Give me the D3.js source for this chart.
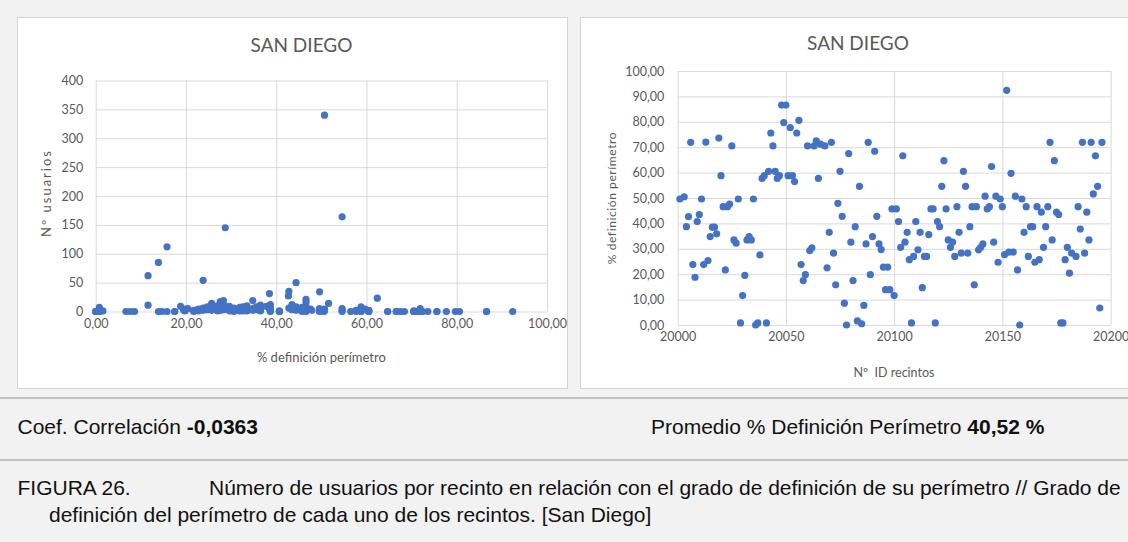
<!DOCTYPE html>
<html><head><meta charset="utf-8">
<script src="https://cdn.jsdelivr.net/npm/d3@7"></script>
<style>
html,body{margin:0;padding:0;background:#f2f2f2;}
svg{display:block;}
</style></head>
<body>
<svg id="c" width="1128" height="542"></svg>
<script>
// Recintos de San Diego: ID, % definición del perímetro, nº de usuarios
const recintoIds = [
20001,20003,20004,20005,20006,20007,20008,20009,20010,20011,
20012,20013,20014,20015,20016,20017,20018,20019,20020,20021,
20022,20023,20024,20025,20026,20027,20028,20029,20030,20031,
20032,20033,20034,20035,20036,20037,20038,20039,20040,20041,
20042,20043,20044,20045,20046,20047,20048,20049,20050,20051,
20052,20053,20054,20055,20056,20057,20058,20059,20060,20061,
20062,20063,20064,20065,20066,20068,20069,20070,20071,20072,
20073,20074,20075,20076,20077,20078,20079,20080,20081,20082,
20083,20084,20085,20086,20087,20088,20089,20090,20091,20092,
20093,20094,20095,20096,20097,20098,20099,20100,20101,20102,
20103,20104,20105,20106,20107,20108,20109,20110,20111,20112,
20113,20114,20115,20116,20117,20118,20119,20120,20121,20122,
20123,20124,20125,20126,20127,20128,20129,20130,20131,20132,
20133,20134,20135,20136,20137,20138,20139,20140,20141,20142,
20143,20144,20145,20146,20147,20148,20149,20150,20151,20152,
20153,20154,20155,20156,20157,20158,20159,20160,20161,20162,
20163,20164,20165,20166,20167,20168,20169,20170,20171,20172,
20173,20174,20175,20176,20177,20178,20179,20180,20181,20182,
20184,20185,20186,20187,20188,20189,20190,20191,20192,20193,
20194,20195,20196];

const pctDefinicion = [
49.6,50.5,38.7,42.7,71.9,23.8,18.8,40.7,43.5,49.6,
23.8,72.0,25.4,34.8,38.5,38.5,35.9,73.6,58.8,46.6,
21.7,46.6,47.6,70.5,33.5,32.2,49.6,0.8,11.6,19.5,
33.5,34.8,33.5,49.6,0.0,0.8,27.6,57.7,58.8,0.8,
60.5,75.6,70.5,60.5,57.7,58.8,86.6,79.7,86.6,58.8,
77.7,58.8,56.5,75.6,80.6,23.8,17.5,19.8,70.5,29.3,
30.4,70.5,72.5,57.7,71.2,70.5,22.5,36.5,71.9,28.3,
15.8,47.9,60.5,42.8,8.6,0.0,67.5,32.6,17.5,38.7,
1.6,54.6,0.5,7.7,31.9,71.9,19.8,34.8,68.4,42.8,
31.9,29.7,22.8,13.9,22.8,13.9,45.7,11.6,45.7,40.7,
30.6,66.6,32.6,36.5,25.7,0.8,27.0,40.7,29.6,36.5,
14.7,27.0,27.0,35.6,45.7,45.7,0.8,40.7,38.7,54.6,
64.7,45.7,33.5,30.6,32.6,27.0,46.6,36.5,28.3,60.5,
54.6,28.3,38.7,46.6,15.8,46.6,29.6,30.6,31.9,50.7,
45.7,46.6,62.4,32.6,50.7,24.7,49.6,46.6,27.7,92.4,
28.7,59.7,28.7,50.7,21.7,0.0,49.6,36.5,46.6,27.0,
38.7,38.7,24.7,46.6,25.7,44.4,30.6,38.7,46.6,71.9,
33.5,64.7,44.4,43.5,0.8,0.8,25.7,30.6,20.4,28.3,
27.0,46.6,37.8,71.9,28.3,44.4,33.5,71.9,51.6,66.6,
54.6,6.7,71.9];

const numUsuarios = [
0,0,2,27,5,54,9,0,12,34,
6,0,5,19,31,5,3,0,8,21,
2,4,4,0,6,2,5,7,62,2,
3,5,10,1,0,2,17,2,3,0,
0,0,0,2,0,0,0,0,0,2,
0,0,0,0,0,2,0,4,1,5,
4,0,0,1,0,0,3,6,2,19,
112,2,0,35,0,0,0,4,0,12,
1,164,0,0,1,0,1,2,0,6,
7,1,4,85,1,0,5,11,1,0,
2,0,8,2,14,3,4,1,2,11,
0,7,1,8,3,0,0,0,3,5,
0,2,2,6,1,10,16,4,6,1,
2,3,7,2,0,9,9,0,3,340,
7,1,23,5,4,8,3,5,2,0,
145,4,8,1,0,0,2,1,3,3,
1,4,3,0,2,50,3,0,6,0,
4,0,8,3,0,1,6,5,5,12,
5,2,9,0,4,2,1,1,14,0,
0,0,0];

const chartTitle = "SAN DIEGO";
const leftXTicks = [0,20,40,60,80,100];
const leftYTicks = [0,50,100,150,200,250,300,350,400];
const rightXTicks = [20000,20050,20100,20150,20200];
const rightYTicks = [0,10,20,30,40,50,60,70,80,90,100];
const leftXTitle = "% definición perímetro";
const leftYTitle = "Nº usuarios";
const rightXTitle = "Nº  ID recintos";
const rightYTitle = "% definición perímetro";
const coefLabel = "Coef. Correlación ";
const coefValue = "-0,0363";
const promLabel = "Promedio % Definición Perímetro ";
const promValue = "40,52 %";
const figLabel = "FIGURA 26.";
const figLine1 = "Número de usuarios por recinto en relación con el grado de definición de su perímetro // Grado de";
const figLine2 = "definición del perímetro de cada uno de los recintos. [San Diego]";

const data = recintoIds.map((id,i)=>({id, pct:pctDefinicion[i], users:numUsuarios[i]}));

const svg = d3.select("#c");
const GRID = "#d9d9d9", LBL = "#595959", DOT = "#4472c4";
const fmt2 = d => d3.format(".2f")(d).replace(".", ",");
const chartFont = "Lato, 'Open Sans', sans-serif";
const textFont = "'Liberation Sans', Arial, sans-serif";

svg.append("rect").attr("width",1128).attr("height",542).attr("fill","#f2f2f2");

// panels
svg.append("rect").attr("x",17.5).attr("y",17.5).attr("width",550).attr("height",371)
  .attr("fill","#fff").attr("stroke","#d4d4d4");
svg.append("rect").attr("x",580.5).attr("y",17.5).attr("width",560).attr("height",371)
  .attr("fill","#fff").attr("stroke","#d4d4d4");

function styleAxis(g){
  g.select(".domain").remove();
  g.selectAll(".tick line").attr("stroke",GRID).attr("stroke-width",1);
  g.selectAll(".tick text").attr("fill",LBL).style("font-family",chartFont).style("font-size","12.5px");
}

// ---- Left chart ----
const xL = d3.scaleLinear().domain([0,100]).range([95.7,547]);
const yL = d3.scaleLinear().domain([0,400]).range([311.5,80.5]);
const gL = svg.append("g");
gL.append("g").attr("transform",`translate(0,${yL(0)})`)
  .call(d3.axisBottom(xL).tickValues(leftXTicks).tickSize(-(yL(0)-yL(400))).tickPadding(7.5).tickFormat(fmt2))
  .call(styleAxis);
gL.append("g").attr("transform",`translate(${xL(0)},0)`)
  .call(d3.axisLeft(yL).tickValues(leftYTicks).tickSize(-(xL(100)-xL(0))).tickPadding(12.5).tickFormat(d3.format("d")))
  .call(styleAxis);
gL.selectAll("circle.pt").data(data).join("circle").attr("class","pt")
  .attr("cx",d=>xL(d.pct)).attr("cy",d=>yL(d.users)).attr("r",3.6).attr("fill",DOT);
gL.append("text").attr("x",301.5).attr("y",52).attr("text-anchor","middle")
  .attr("fill",LBL).style("font-family",chartFont).style("font-size","19px").text(chartTitle);
gL.append("text").attr("x",(xL(0)+xL(100))/2).attr("y",362).attr("text-anchor","middle")
  .attr("fill",LBL).style("font-family",chartFont).style("font-size","13px").text(leftXTitle);
gL.append("text").attr("transform","translate(51,193) rotate(-90)").attr("text-anchor","middle")
  .attr("fill",LBL).style("font-family",chartFont).style("font-size","13px").style("letter-spacing","2px").text(leftYTitle);

// ---- Right chart ----
const xR = d3.scaleLinear().domain([20000,20200]).range([677.7,1110.6]);
const yR = d3.scaleLinear().domain([0,100]).range([325,71]);
const gR = svg.append("g");
gR.append("g").attr("transform",`translate(0,${yR(0)})`)
  .call(d3.axisBottom(xR).tickValues(rightXTicks).tickSize(-(yR(0)-yR(100))).tickPadding(7).tickFormat(d3.format("d")))
  .call(styleAxis);
gR.append("g").attr("transform",`translate(${xR(20000)},0)`)
  .call(d3.axisLeft(yR).tickValues(rightYTicks).tickSize(-(xR(20200)-xR(20000))).tickPadding(13.4).tickFormat(fmt2))
  .call(styleAxis);
gR.selectAll("circle.pt").data(data).join("circle").attr("class","pt")
  .attr("cx",d=>xR(d.id)).attr("cy",d=>yR(d.pct)).attr("r",3.6).attr("fill",DOT);
gR.append("text").attr("x",858).attr("y",50).attr("text-anchor","middle")
  .attr("fill",LBL).style("font-family",chartFont).style("font-size","19px").text(chartTitle);
gR.append("text").attr("x",894).attr("y",377).attr("text-anchor","middle")
  .attr("fill",LBL).style("font-family",chartFont).style("font-size","12.5px").style("white-space","pre").attr("xml:space","preserve").text(rightXTitle);
gR.append("text").attr("transform","translate(616,198) rotate(-90)").attr("text-anchor","middle")
  .attr("fill",LBL).style("font-family",chartFont).style("font-size","12px").style("letter-spacing","0.6px").text(rightYTitle);

// ---- Bottom text ----
svg.append("line").attr("x1",0).attr("x2",1128).attr("y1",398).attr("y2",398).attr("stroke","#c0c0c0").attr("stroke-width",2);
svg.append("line").attr("x1",0).attr("x2",1128).attr("y1",460).attr("y2",460).attr("stroke","#c0c0c0").attr("stroke-width",2);

const t1 = svg.append("text").attr("x",17.5).attr("y",434).attr("fill","#111")
  .style("font-family",textFont).style("font-size","21px");
t1.append("tspan").text(coefLabel);
t1.append("tspan").attr("font-weight","bold").text(coefValue);
const t2 = svg.append("text").attr("x",651).attr("y",434).attr("fill","#111")
  .style("font-family",textFont).style("font-size","21px");
t2.append("tspan").text(promLabel);
t2.append("tspan").attr("font-weight","bold").text(promValue);

svg.append("text").attr("x",17.5).attr("y",495).attr("fill","#111")
  .style("font-family",textFont).style("font-size","21px").text(figLabel);
svg.append("text").attr("x",209).attr("y",495).attr("fill","#111")
  .style("font-family",textFont).style("font-size","21px").text(figLine1);
svg.append("text").attr("x",49).attr("y",522).attr("fill","#111")
  .style("font-family",textFont).style("font-size","21px").text(figLine2);
</script>
</body></html>
